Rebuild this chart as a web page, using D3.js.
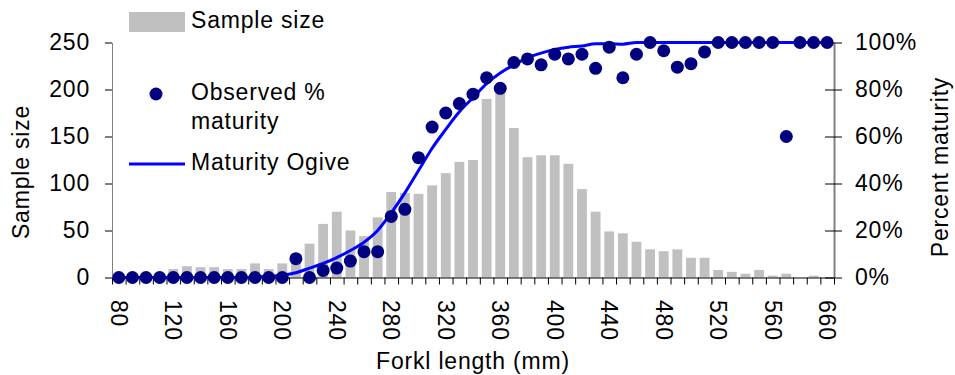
<!DOCTYPE html>
<html>
<head>
<meta charset="utf-8">
<script src="https://cdn.jsdelivr.net/npm/d3@7"></script>
<style>
  body { margin: 0; background: #fff; }
  svg { display: block; font-family: "Liberation Sans", Arial, sans-serif; }
  text { letter-spacing: 0.8px; }
</style>
</head>
<body>
<svg id="chart" width="955" height="375"></svg>
<script>
// fork length classes (mm) - last ones are sparse
const lengths = ["80","90","100","110","120","130","140","150","160","170","180","190","200",
  "210","220","230","240","250","260","270","280","290","300","310","320","330","340","350",
  "360","370","380","390","400","410","420","430","440","450","460","470","480","490","500",
  "510","520","530","540","550","560","570","580","600","660"];

const sampleSize = [1,1,2,5,9,12,11,11,9,9,15,9,15,
  20,36,57,70,50,44,64,91,90,89,98,111,123,125,190,
  197,159,128,130,130,121,94,70,49,47,38,30,28,30,21,
  21,8,6,4,8,2,4,0,2,0];

const observedPct = [0,0,0,0,0,0,0,0,0,0,0,0,0,
  8,0,3,4,7,11,11,26,29,51,64,70,74,78,85,
  80.5,91.5,93,90.5,95,93,95,89,98,85,95,100,96.5,89.5,91,
  96,100,100,100,100,100,60,100,100,100];

const ogivePct = [0,0,0,0,0,0,0,0,0,0,0.2,0.5,1,
  2,4,6,8.5,11.5,15,20,27.5,36,45.5,55,63,70.5,76.5,82.5,
  87,90.5,93.5,95.5,97,98,98.5,99.5,99.5,99.3,100,100,100,100,100,
  100,100,100,100,100,100,100,100,100,100];

const leftTicks = [0,50,100,150,200,250];
const rightTicks = [0,20,40,60,80,100];

const dims = {
    width: 955,
    height: 375,
    margin: {top: 42.5, right: 121, bottom: 97.5, left: 112}
};
dims.boundedWidth = dims.width - dims.margin.left - dims.margin.right;
dims.boundedHeight = dims.height - dims.margin.top - dims.margin.bottom;

const svg = d3.select("#chart");
const fontSize = 23;

const rows = lengths.map((l, i) => ({len: l, n: sampleSize[i], obs: observedPct[i], fit: ogivePct[i]}));

/** scales */
const xScale = d3.scaleBand()
    .domain(lengths)
    .range([dims.margin.left, dims.width - dims.margin.right])
    .padding(0);
const xIndex = d3.scaleLinear()
    .domain([0, lengths.length])
    .range([dims.margin.left, dims.width - dims.margin.right]);
const yLeft = d3.scaleLinear()
    .domain([0, 250])
    .range([dims.height - dims.margin.bottom, dims.margin.top]);
const yRight = d3.scaleLinear()
    .domain([0, 100])
    .range([dims.height - dims.margin.bottom, dims.margin.top]);

const bw = xScale.bandwidth();
const barW = bw * 0.72;
const cx = d => xScale(d.len) + bw / 2;

/** bars */
svg.append("g").attr("class", "bars")
    .selectAll("rect")
    .data(rows)
    .join("rect")
    .attr("x", d => cx(d) - barW / 2)
    .attr("width", barW)
    .attr("y", d => yLeft(d.n))
    .attr("height", d => yLeft(0) - yLeft(d.n))
    .attr("fill", "#c0c0c0");

/** x axis: ticks at class boundaries */
const xAxisG = svg.append("g")
    .attr("transform", `translate(0, ${yLeft(0)})`)
    .call(d3.axisBottom(xIndex).tickValues(d3.range(lengths.length + 1)).tickSize(7).tickFormat("").tickSizeOuter(0));
xAxisG.select(".domain").attr("stroke", "#000");
xAxisG.selectAll(".tick line").attr("stroke", "#000");

svg.append("g").attr("class", "xlabels")
    .selectAll("text")
    .data(rows.filter((d, i) => i % 4 === 0))
    .join("text")
    .attr("transform", d => `translate(${cx(d)}, 300) rotate(90)`)
    .attr("text-anchor", "start")
    .attr("dy", "0.35em")
    .attr("font-size", fontSize)
    .attr("fill", "#000")
    .text(d => d.len);

/** left axis */
const leftG = svg.append("g")
    .attr("transform", `translate(${dims.margin.left}, 0)`)
    .call(d3.axisLeft(yLeft).tickValues(leftTicks).tickSize(7).tickPadding(15).tickSizeOuter(0));
leftG.select(".domain").attr("stroke", "#808080");
leftG.selectAll(".tick line").attr("stroke", "#000");
leftG.selectAll(".tick text").attr("font-size", fontSize).attr("font-family", "Liberation Sans, Arial").attr("fill", "#000");

/** right axis */
const rx = dims.width - dims.margin.right;
const rightG = svg.append("g")
    .attr("transform", `translate(${rx}, 0)`)
    .call(d3.axisRight(yRight).tickValues(rightTicks).tickSize(8).tickPadding(13)
        .tickFormat(d => d + "%").tickSizeOuter(0));
rightG.select(".domain").attr("stroke", "#808080").attr("stroke-width", 2);
rightG.selectAll(".tick line").attr("stroke", "#000").attr("x1", -9);
rightG.selectAll(".tick text").attr("font-size", fontSize).attr("font-family", "Liberation Sans, Arial").attr("fill", "#000");

/** ogive line */
const line = d3.line()
    .x(d => cx(d))
    .y(d => yRight(d.fit))
    .curve(d3.curveMonotoneX);
svg.append("path")
    .datum(rows)
    .attr("d", line)
    .attr("fill", "none")
    .attr("stroke", "#0000ff")
    .attr("stroke-width", 3);

/** observed dots */
svg.append("g").attr("class", "dots")
    .selectAll("circle")
    .data(rows)
    .join("circle")
    .attr("cx", d => cx(d))
    .attr("cy", d => yRight(d.obs))
    .attr("r", 6.5)
    .attr("fill", "#000080");

/** axis titles */
svg.append("text")
    .attr("transform", `translate(29, 172) rotate(-90)`)
    .attr("text-anchor", "middle")
    .attr("font-size", fontSize)
    .text("Sample size");
svg.append("text")
    .attr("transform", `translate(948, 167) rotate(-90)`)
    .attr("text-anchor", "middle")
    .attr("font-size", fontSize)
    .text("Percent maturity");
svg.append("text")
    .attr("x", 473)
    .attr("y", 369)
    .attr("text-anchor", "middle")
    .attr("font-size", fontSize)
    .text("Forkl length (mm)");

/** legend */
const legend = svg.append("g").attr("class", "legend");
legend.append("rect")
    .attr("x", 129).attr("y", 12).attr("width", 56).attr("height", 20)
    .attr("fill", "#c0c0c0");
legend.append("text")
    .attr("x", 191).attr("y", 28).attr("font-size", fontSize).text("Sample size");
legend.append("circle")
    .attr("cx", 156).attr("cy", 94).attr("r", 6.5).attr("fill", "#000080");
legend.append("text")
    .attr("x", 191).attr("y", 100).attr("font-size", fontSize).text("Observed %");
legend.append("text")
    .attr("x", 191).attr("y", 129).attr("font-size", fontSize).text("maturity");
legend.append("line")
    .attr("x1", 129).attr("x2", 185).attr("y1", 164).attr("y2", 164)
    .attr("stroke", "#0000ff").attr("stroke-width", 3);
legend.append("text")
    .attr("x", 191).attr("y", 170).attr("font-size", fontSize).text("Maturity Ogive");
</script>
</body>
</html>
